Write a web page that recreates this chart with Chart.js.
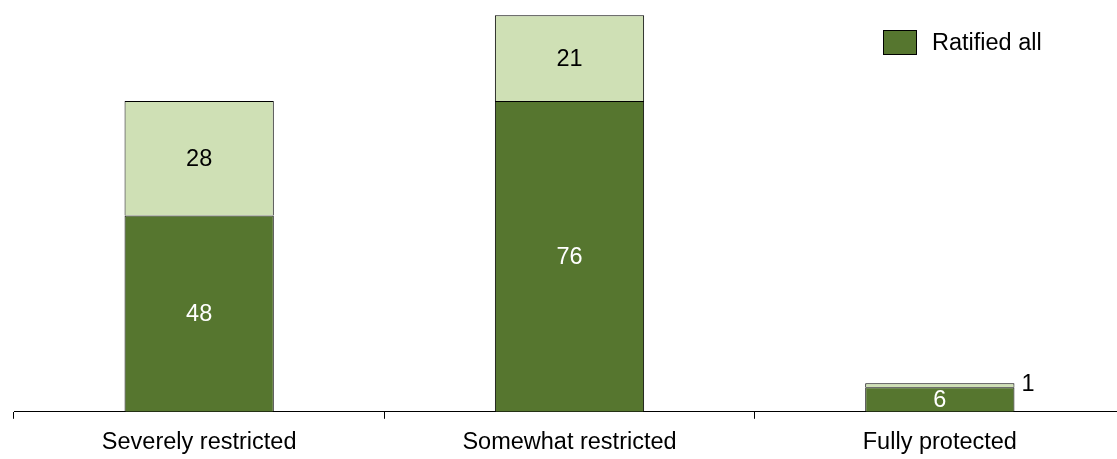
<!DOCTYPE html>
<html>
<head>
<meta charset="utf-8">
<script src="https://cdn.jsdelivr.net/npm/chart.js@4"></script>
<style>
  html, body { margin: 0; padding: 0; background: #fff; overflow: hidden; width: 1117px; height: 459px; }
  #wrap { position: relative; width: 1125px; height: 459px; overflow: hidden; }
  #legend { position: absolute; left: 883px; top: 30px; height: 25px; display: flex; align-items: center;
            font-family: "Liberation Sans", Arial, sans-serif; font-size: 23.5px; color: #000; }
  #legend .sw { width: 32px; height: 23px; background: #56762F; border: 1px solid #000; margin-right: 15px; }
</style>
</head>
<body>
<div id="wrap">
  <canvas id="c" width="1125" height="467"></canvas>
  <div id="legend"><div class="sw"></div><span>Ratified all</span></div>
</div>
<script>
const categories = ["Severely restricted", "Somewhat restricted", "Fully protected"];
const ratifiedAll = [48, 76, 6];
const ratifiedSome = [28, 21, 1];
const seriesNames = ["Ratified all", "Ratified some"];

const labelPlugin = {
  id: 'barLabels',
  afterDatasetsDraw(chart) {
    const ctx = chart.ctx;
    ctx.save();
    ctx.font = '23.5px "Liberation Sans", Arial, sans-serif';
    ctx.textBaseline = 'middle';
    chart.data.datasets.forEach((ds, di) => {
      const meta = chart.getDatasetMeta(di);
      meta.data.forEach((bar, i) => {
        const v = ds.data[i];
        const p = bar.getProps(['x', 'y', 'base', 'width'], true);
        const h = Math.abs(p.base - p.y);
        if (h < 10) {
          ctx.fillStyle = '#000';
          ctx.textAlign = 'left';
          ctx.fillText(String(v), p.x + p.width / 2 + 7, p.y + 1);
        } else {
          ctx.fillStyle = di === 0 ? '#fff' : '#000';
          ctx.textAlign = 'center';
          ctx.fillText(String(v), p.x, (p.y + p.base) / 2 + 1);
        }
      });
    });
    ctx.restore();
  }
};

new Chart(document.getElementById('c'), {
  type: 'bar',
  data: {
    labels: categories,
    datasets: [
      { label: seriesNames[0], data: ratifiedAll, backgroundColor: '#56762F', borderColor: '#000', borderWidth: 1 },
      { label: seriesNames[1], data: ratifiedSome, backgroundColor: '#CFE0B5', borderColor: '#000', borderWidth: 1 }
    ]
  },
  options: {
    responsive: false,
    animation: false,
    devicePixelRatio: 1,
    layout: { padding: { left: 14, right: 0, top: 3, bottom: 0 } },
    datasets: { bar: { barPercentage: 0.403, categoryPercentage: 1.0 } },
    plugins: { legend: { display: false }, tooltip: { enabled: false } },
    scales: {
      x: {
        stacked: true,
        offset: true,
        border: { display: true, color: '#000', width: 1 },
        grid: { display: true, drawOnChartArea: false, drawTicks: true, tickLength: 7, color: '#000', offset: true },
        ticks: { color: '#000', font: { family: '"Liberation Sans", Arial, sans-serif', size: 23.5 }, padding: 10 }
      },
      y: {
        stacked: true,
        display: false,
        min: 0,
        max: 100
      }
    }
  },
  plugins: [labelPlugin]
});
</script>
</body>
</html>
